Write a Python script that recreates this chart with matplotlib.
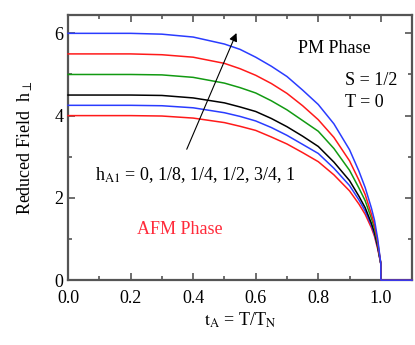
import numpy as np
import matplotlib
matplotlib.use('agg')
import matplotlib.pyplot as plt
from matplotlib.ticker import MultipleLocator

plt.rcParams['font.family'] = ['Liberation Serif', 'DejaVu Serif']
plt.rcParams['mathtext.fontset'] = 'stix'

# reduced temperature grid
t_A = [0.0, 0.1, 0.2, 0.3, 0.4, 0.5, 0.55, 0.6, 0.65, 0.7, 0.75, 0.8,
       0.85, 0.9, 0.93, 0.95, 0.97, 0.98, 0.99, 1.0, 1.0, 1.1]

# reduced field h_perp for h_A1 = 0, 1/8, 1/4, 1/2, 3/4, 1
h_0 = [4.0, 4.0, 4.0, 3.99, 3.94, 3.83, 3.74, 3.64, 3.48, 3.31, 3.1, 2.88,
       2.56, 2.17, 1.85, 1.6, 1.27, 1.06, 0.76, 0.4, 0.0, 0.0]
h_18 = [4.25, 4.25, 4.25, 4.24, 4.19, 4.07, 3.98, 3.87, 3.71, 3.52, 3.3, 3.08,
        2.72, 2.3, 1.95, 1.68, 1.33, 1.1, 0.8, 0.4, 0.0, 0.0]
h_14 = [4.5, 4.5, 4.5, 4.49, 4.43, 4.31, 4.21, 4.1, 3.93, 3.73, 3.5, 3.25,
        2.87, 2.42, 2.04, 1.76, 1.38, 1.15, 0.82, 0.4, 0.0, 0.0]
h_12 = [5.0, 5.0, 5.0, 4.99, 4.93, 4.79, 4.68, 4.55, 4.36, 4.14, 3.88, 3.62,
        3.2, 2.67, 2.24, 1.93, 1.5, 1.25, 0.88, 0.4, 0.0, 0.0]
h_34 = [5.5, 5.5, 5.5, 5.48, 5.42, 5.27, 5.14, 4.98, 4.78, 4.54, 4.24, 3.9,
        3.47, 2.9, 2.43, 2.08, 1.6, 1.33, 0.93, 0.4, 0.0, 0.0]
h_1 = [6.0, 6.0, 6.0, 5.98, 5.91, 5.74, 5.61, 5.42, 5.2, 4.95, 4.62, 4.27,
       3.8, 3.17, 2.65, 2.25, 1.75, 1.45, 1.0, 0.4, 0.0, 0.0]

curves = [h_0, h_18, h_14, h_12, h_34, h_1]
colors = ['#ff1a1a', '#2a3cff', 'black', '#129a12', '#ff1a1a', '#2a3cff']

fig = plt.figure(figsize=(4.15, 3.45), dpi=100)
ax = fig.add_axes([0.164, 0.188, 0.829, 0.769])

for h, c in zip(curves, colors):
    ax.plot(t_A, h, color=c, lw=1.1, clip_on=False, zorder=3)

ax.set_xlim(0, 1.1)
ax.set_ylim(0, 6.45)
ax.xaxis.set_major_locator(MultipleLocator(0.2))
ax.xaxis.set_minor_locator(MultipleLocator(0.1))
ax.yaxis.set_major_locator(MultipleLocator(2))
ax.yaxis.set_minor_locator(MultipleLocator(1))
ax.tick_params(which='both', direction='in', top=True, right=True,
               color='#555555', width=1.2, labelsize=13)
ax.tick_params(which='major', length=5)
ax.tick_params(which='minor', length=3)
ax.tick_params(axis='x', which='major', pad=7)
ax.set_xticks([0, 0.2, 0.4, 0.6, 0.8, 1.0])
ax.set_xticklabels(['0.0', '0.2', '0.4', '0.6', '0.8', '1.0'])
for s in ax.spines.values():
    s.set_color('#555555')
    s.set_linewidth(1.6)

ax.set_xlabel(r'$\mathrm{t_A}$ = T/T$_\mathrm{N}$', fontsize=13, labelpad=3)
ax.set_ylabel(r'Reduced Field  h$_\perp$', fontsize=13, labelpad=14)

ax.text(0.852, 5.63, 'PM Phase', fontsize=13, ha='center', va='center')
ax.text(0.884, 4.85, 'S = 1/2', fontsize=13, ha='left', va='center')
ax.text(0.884, 4.33, 'T = 0', fontsize=13, ha='left', va='center')
ax.text(0.087, 2.55, r'h$_\mathrm{A1}$ = 0, 1/8, 1/4, 1/2, 3/4, 1',
        fontsize=13, ha='left', va='center')
ax.text(0.219, 1.22, 'AFM Phase', fontsize=13, color='#ff2a3a',
        ha='left', va='center')

ax.annotate('', xy=(0.542, 6.07), xytext=(0.376, 3.12),
            arrowprops=dict(arrowstyle='-|>', color='black', lw=0.8,
                            mutation_scale=12))

fig.savefig('out.png', dpi=100)
